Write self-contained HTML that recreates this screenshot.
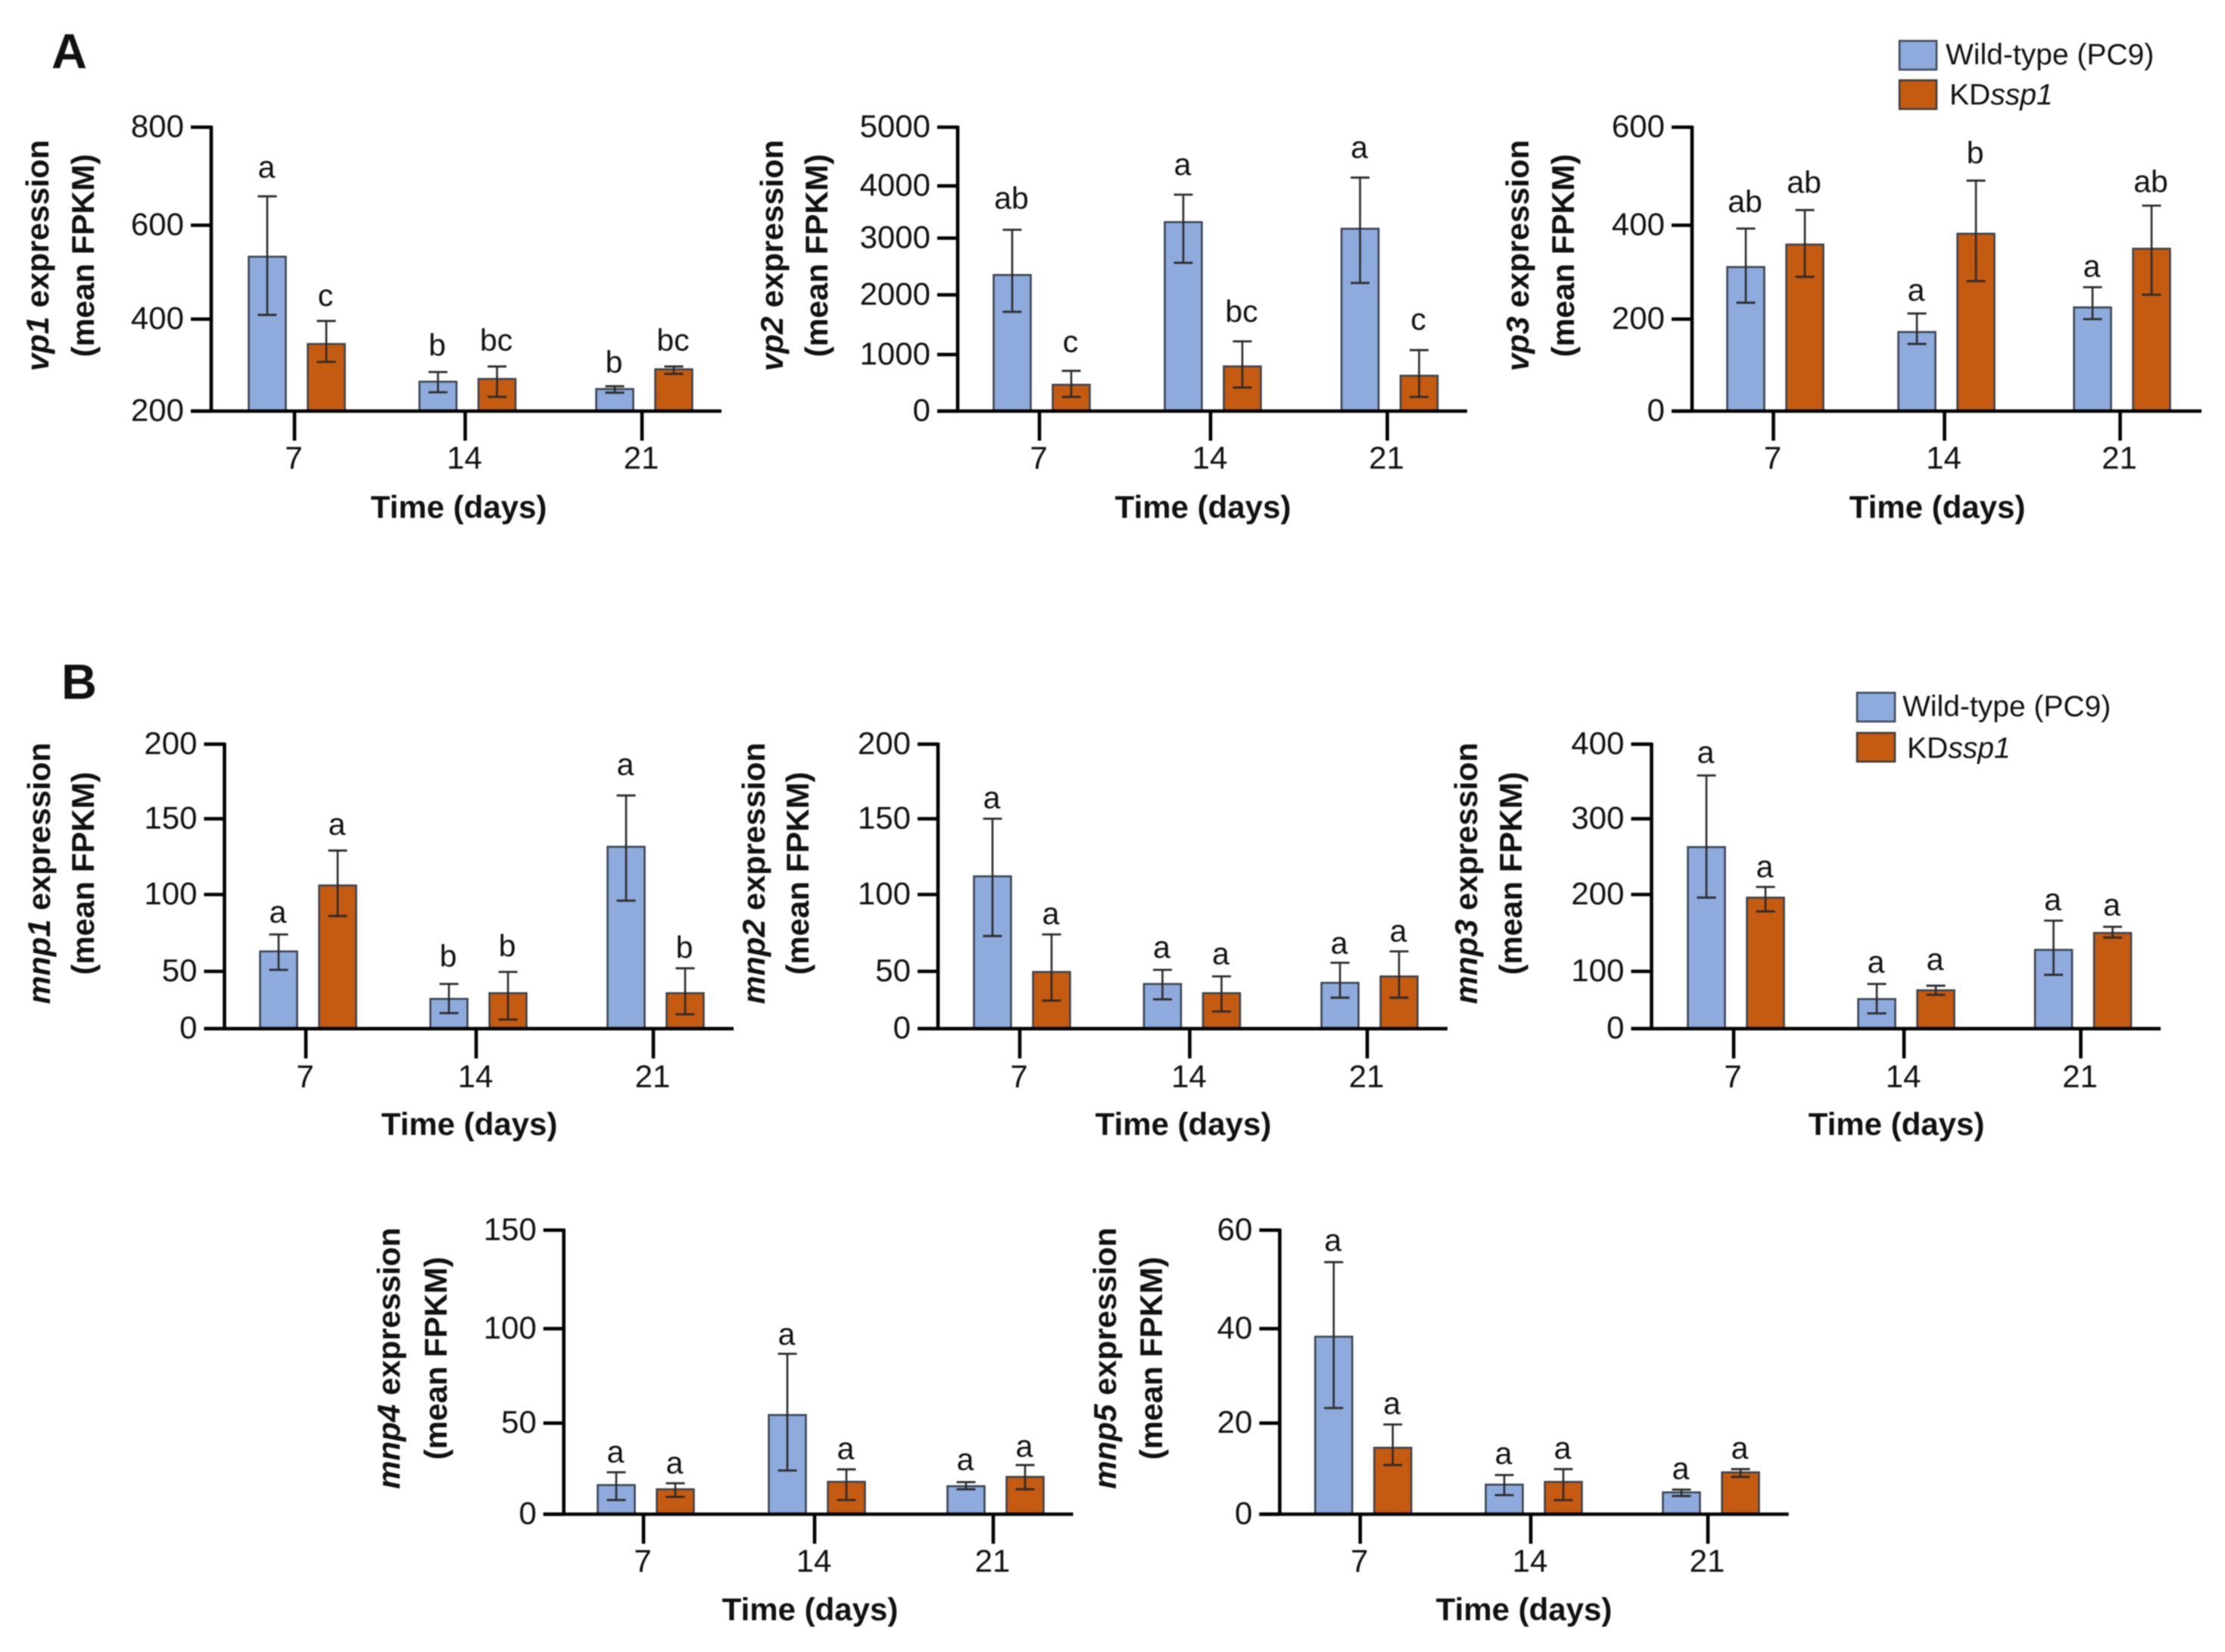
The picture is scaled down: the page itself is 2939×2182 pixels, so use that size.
<!DOCTYPE html>
<html lang="en">
<head>
<meta charset="utf-8">
<title>Gene expression of vp and mnp genes in wild-type and KDssp1</title>
<style>
html,body{margin:0;padding:0;background:#fff}
svg{display:block;filter:blur(0.7px)}
text{font-family:"Liberation Sans",sans-serif;fill:#111}
</style>
</head>
<body>
<svg id="figure" xmlns="http://www.w3.org/2000/svg" width="2939" height="2182" viewBox="0 0 2939 2182">
  <rect x="0" y="0" width="2939" height="2182" fill="#fff"/>
  <text x="68" y="90" font-size="65" font-weight="bold">A</text>
  <text x="81" y="923" font-size="65" font-weight="bold">B</text>

  <g>
    <rect x="2509" y="54" width="49" height="38" fill="#8FAADC" stroke="#3a4654" stroke-width="2.5"/>
    <text x="2570" y="85" font-size="39">Wild-type (PC9)</text>
    <rect x="2509" y="106" width="49" height="38" fill="#C55A11" stroke="#3a3a3a" stroke-width="2.5"/>
    <text x="2575" y="138" font-size="39">KD<tspan font-style="italic">ssp1</tspan></text>
  </g>
  <g>
    <rect x="2453" y="915" width="50" height="38" fill="#8FAADC" stroke="#3a4654" stroke-width="2.5"/>
    <text x="2513" y="946" font-size="39">Wild-type (PC9)</text>
    <rect x="2453" y="968" width="50" height="38" fill="#C55A11" stroke="#3a3a3a" stroke-width="2.5"/>
    <text x="2519" y="1001" font-size="39">KD<tspan font-style="italic">ssp1</tspan></text>
  </g>
</svg>
<script>
// Shared categories
const days = [7, 14, 21];

// vp1
const vp1Ticks = [200, 400, 600, 800];
const vp1Wt = [533, 264, 248];
const vp1Kd = [346, 270, 291];
const vp1WtHi = [659, 285, 254];
const vp1KdHi = [396, 297, 297];
const vp1WtLo = [409, 241, 240];
const vp1KdLo = [307, 231, 281];
const vp1WtSig = ['a', 'b', 'b'];
const vp1KdSig = ['c', 'bc', 'bc'];

// vp2
const vp2Ticks = [0, 1000, 2000, 3000, 4000, 5000];
const vp2Wt = [2350, 3307, 3180];
const vp2Kd = [466, 791, 626];
const vp2WtHi = [3160, 3833, 4142];
const vp2KdHi = [712, 1221, 1074];
const vp2WtLo = [1715, 2564, 2209];
const vp2KdLo = [251, 417, 251];
const vp2WtSig = ['ab', 'a', 'a'];
const vp2KdSig = ['c', 'bc', 'c'];

// vp3
const vp3Ticks = [0, 200, 400, 600];
const vp3Wt = [311, 172, 225];
const vp3Kd = [359, 382, 350];
const vp3WtHi = [393, 212, 268];
const vp3KdHi = [431, 491, 440];
const vp3WtLo = [235, 146, 200];
const vp3KdLo = [290, 281, 252];
const vp3WtSig = ['ab', 'a', 'a'];
const vp3KdSig = ['ab', 'b', 'ab'];

// mnp1
const mnp1Ticks = [0, 50, 100, 150, 200];
const mnp1Wt = [63, 26, 131.5];
const mnp1Kd = [106, 31, 31];
const mnp1WtHi = [74, 39, 165.6];
const mnp1KdHi = [129, 49.5, 52];
const mnp1WtLo = [51, 13.6, 96];
const mnp1KdLo = [86, 8, 12.5];
const mnp1WtSig = ['a', 'b', 'a'];
const mnp1KdSig = ['a', 'b', 'b'];

// mnp2
const mnp2Ticks = [0, 50, 100, 150, 200];
const mnp2Wt = [112, 39, 40];
const mnp2Kd = [49.5, 31, 45.6];
const mnp2WtHi = [150, 51, 55.6];
const mnp2KdHi = [74, 45.6, 63];
const mnp2WtLo = [73, 25.6, 27];
const mnp2KdLo = [24.5, 15, 27];
const mnp2WtSig = ['a', 'a', 'a'];
const mnp2KdSig = ['a', 'a', 'a'];

// mnp3
const mnp3Ticks = [0, 100, 200, 300, 400];
const mnp3Wt = [262.6, 51.7, 128];
const mnp3Kd = [196, 67, 150];
const mnp3WtHi = [358, 78, 166];
const mnp3KdHi = [210, 75, 158];
const mnp3WtLo = [196, 26.7, 94];
const mnp3KdLo = [178, 59, 144];
const mnp3WtSig = ['a', 'a', 'a'];
const mnp3KdSig = ['a', 'a', 'a'];

// mnp4
const mnp4Ticks = [0, 50, 100, 150];
const mnp4Wt = [16, 54.3, 15.4];
const mnp4Kd = [13.7, 17.8, 20.5];
const mnp4WtHi = [23, 86.7, 17.6];
const mnp4KdHi = [17, 24.6, 27];
const mnp4WtLo = [7.8, 24, 13.7];
const mnp4KdLo = [9.5, 7.8, 13.7];
const mnp4WtSig = ['a', 'a', 'a'];
const mnp4KdSig = ['a', 'a', 'a'];

// mnp5
const mnp5Ticks = [0, 20, 40, 60];
const mnp5Wt = [38.3, 6.5, 4.8];
const mnp5Kd = [14.6, 7.1, 9.2];
const mnp5WtHi = [53.5, 8.6, 5.4];
const mnp5KdHi = [19.7, 9.9, 9.9];
const mnp5WtLo = [23.2, 4.2, 4];
const mnp5KdLo = [10.8, 3.1, 8.2];
const mnp5WtSig = ['a', 'a', 'a'];
const mnp5KdSig = ['a', 'a', 'a'];

// Layout rows: axis calibration (separate from data)
const rowA = {bottom: 543, tickEnd: 582, labelBase: 619, titleBase: 684, titleMid: 337.5};
const rowB = {bottom: 1358.7, tickEnd: 1398, labelBase: 1436, titleBase: 1499, titleMid: 1153.5};
const rowC = {bottom: 2000, tickEnd: 2039, labelBase: 2076, titleBase: 2140, titleMid: 1794};

const charts = [
  {id:'vp1', gene:'vp1', row:rowA, axisX:279, rightX:953, line1:64, line2:124, titleX:606,
   yStops:[543,421.5,297.5,168], xStops:[392,617.5,851], tickShift:-3,
   ticks:vp1Ticks, wt:vp1Wt, kd:vp1Kd, wtHi:vp1WtHi, kdHi:vp1KdHi, wtLo:vp1WtLo, kdLo:vp1KdLo, wtSig:vp1WtSig, kdSig:vp1KdSig,
   wtGap:[25,22,18], kdGap:[20,21,21]},
  {id:'vp2', gene:'vp2', row:rowA, axisX:1265, rightX:1938, line1:1034, line2:1093, titleX:1589,
   yStops:[543,468.3,389.4,314.5,245.6,168], xStops:[1376,1602,1835.5], tickShift:-3,
   ticks:vp2Ticks, wt:vp2Wt, kd:vp2Kd, wtHi:vp2WtHi, kdHi:vp2KdHi, wtLo:vp2WtLo, kdLo:vp2KdLo, wtSig:vp2WtSig, kdSig:vp2KdSig,
   wtGap:[28,26,26], kdGap:[25,26,27]},
  {id:'vp3', gene:'vp3', row:rowA, axisX:2235, rightX:2908, line1:2019, line2:2079, titleX:2559,
   yStops:[543,421.5,297.5,168], xStops:[2345,2571,2803], tickShift:-2.5,
   ticks:vp3Ticks, wt:vp3Wt, kd:vp3Kd, wtHi:vp3WtHi, kdHi:vp3KdHi, wtLo:vp3WtLo, kdLo:vp3KdLo, wtSig:vp3WtSig, kdSig:vp3KdSig,
   wtGap:[22,17,14], kdGap:[23,23,18]},
  {id:'mnp1', gene:'mnp1', row:rowB, axisX:296.5, rightX:969, line1:66, line2:124, titleX:620,
   yStops:[1358.7,1283,1181.5,1081.4,982.9], xStops:[407,632,866], tickShift:-3,
   ticks:mnp1Ticks, wt:mnp1Wt, kd:mnp1Kd, wtHi:mnp1WtHi, kdHi:mnp1KdHi, wtLo:mnp1WtLo, kdLo:mnp1KdLo, wtSig:mnp1WtSig, kdSig:mnp1KdSig,
   wtGap:[16,23,27], kdGap:[21,21,14]},
  {id:'mnp2', gene:'mnp2', row:rowB, axisX:1239, rightX:1912, line1:1010, line2:1068, titleX:1563,
   yStops:[1358.7,1283,1181.5,1081.4,982.9], xStops:[1350,1574.5,1809], tickShift:-3,
   ticks:mnp2Ticks, wt:mnp2Wt, kd:mnp2Kd, wtHi:mnp2WtHi, kdHi:mnp2KdHi, wtLo:mnp2WtLo, kdLo:mnp2KdLo, wtSig:mnp2WtSig, kdSig:mnp2KdSig,
   wtGap:[14,16,12], kdGap:[14,16,13]},
  {id:'mnp3', gene:'mnp3', row:rowB, axisX:2181.5, rightX:2854, line1:1951, line2:2010, titleX:2505,
   yStops:[1358.7,1283,1181.5,1081.4,982.9], xStops:[2293,2518,2751.5], tickShift:-3,
   ticks:mnp3Ticks, wt:mnp3Wt, kd:mnp3Kd, wtHi:mnp3WtHi, kdHi:mnp3KdHi, wtLo:mnp3WtLo, kdLo:mnp3KdLo, wtSig:mnp3WtSig, kdSig:mnp3KdSig,
   wtGap:[17,15,14], kdGap:[13,21,15]},
  {id:'mnp4', gene:'mnp4', row:rowC, axisX:744.7, rightX:1417.5, line1:528, line2:590, titleX:1070,
   yStops:[2000,1879.7,1754.9,1624.8], xStops:[853,1079,1315], tickShift:-3,
   ticks:mnp4Ticks, wt:mnp4Wt, kd:mnp4Kd, wtHi:mnp4WtHi, kdHi:mnp4KdHi, wtLo:mnp4WtLo, kdLo:mnp4KdLo, wtSig:mnp4WtSig, kdSig:mnp4KdSig,
   wtGap:[13,12,16], kdGap:[13,14,11]},
  {id:'mnp5', gene:'mnp5', row:rowC, axisX:1690.4, rightX:2362.6, line1:1474, line2:1535, titleX:2013,
   yStops:[2000,1879.7,1754.9,1624.8], xStops:[1800.7,2026,2260], tickShift:-4,
   ticks:mnp5Ticks, wt:mnp5Wt, kd:mnp5Kd, wtHi:mnp5WtHi, kdHi:mnp5KdHi, wtLo:mnp5WtLo, kdLo:mnp5KdLo, wtSig:mnp5WtSig, kdSig:mnp5KdSig,
   wtGap:[15,15,14], kdGap:[14,14,14]}
];

const SVG_NS = 'http://www.w3.org/2000/svg';
const BLUE = '#8FAADC';
const ORANGE = '#C55A11';
const BAR_WIDTH = 49;
const BAR_OFFSET = 39;
const CAP_WIDTH = 25;

function make(tag, attrs, parent, name) {
  const node = document.createElementNS(SVG_NS, tag);
  for (const key in attrs) node.setAttribute(key, attrs[key]);
  
  
  parent.appendChild(node);
  return node;
}

// Piecewise-linear value axis calibrated on the chart's tick marks
function yScale(chart, value) {
  const t = chart.ticks;
  const s = chart.yStops;
  let i = 0;
  while (i < t.length - 2 && value > t[i + 1]) i++;
  return s[i] + (value - t[i]) / (t[i + 1] - t[i]) * (s[i + 1] - s[i]);
}
function xScale(chart, index) {
  return chart.xStops[index];
}

function drawSeries(g, chart, i, key, offset, color) {
  const cx = xScale(chart, i) + offset;
  const bottom = chart.row.bottom;
  const top = yScale(chart, chart[key][i]);
  const hi = yScale(chart, chart[key + 'Hi'][i]);
  const lo = yScale(chart, chart[key + 'Lo'][i]);
  const label = key + '-day-' + days[i];
  make('rect', {x: cx - BAR_WIDTH / 2, y: top, width: BAR_WIDTH, height: bottom - top, fill: color, stroke: '#37414d', 'stroke-width': 2.5}, g, 'bar-' + label);
  make('line', {x1: cx, x2: cx, y1: hi, y2: lo, stroke: '#2b2b2b', 'stroke-width': 2.6}, g, 'error-bar-' + label);
  make('line', {x1: cx - CAP_WIDTH / 2, x2: cx + CAP_WIDTH / 2, y1: hi, y2: hi, stroke: '#2b2b2b', 'stroke-width': 2.8}, g, 'error-cap-high-' + label);
  make('line', {x1: cx - CAP_WIDTH / 2, x2: cx + CAP_WIDTH / 2, y1: lo, y2: lo, stroke: '#2b2b2b', 'stroke-width': 2.8}, g, 'error-cap-low-' + label);
  const sig = make('text', {x: cx - 1, y: hi - chart[key + 'Gap'][i], 'font-size': 41, 'text-anchor': 'middle'}, g, 'significance-letter-' + label);
  sig.textContent = chart[key + 'Sig'][i];
}

function drawChart(chart) {
  const svg = document.getElementById('figure');
  const g = make('g', {}, svg, 'chart-' + chart.id);
  const row = chart.row;
  const topY = yScale(chart, chart.ticks[chart.ticks.length - 1]);

  // Bars first so the axis overlays their base
  chart.wt.forEach(function (v, i) {
    drawSeries(g, chart, i, 'wt', -BAR_OFFSET, BLUE);
    drawSeries(g, chart, i, 'kd', BAR_OFFSET, ORANGE);
  });

  make('line', {x1: chart.axisX, x2: chart.axisX, y1: topY - 2, y2: row.bottom + 2, stroke: '#000', 'stroke-width': 4.6}, g, 'y-axis-line');
  make('line', {x1: chart.axisX - 27, x2: chart.rightX, y1: row.bottom, y2: row.bottom, stroke: '#000', 'stroke-width': 4.6}, g, 'x-axis-line');

  chart.ticks.forEach(function (tick) {
    const y = yScale(chart, tick);
    make('line', {x1: chart.axisX - 27, x2: chart.axisX, y1: y, y2: y, stroke: '#000', 'stroke-width': 4.6}, g, 'y-tick-' + tick);
    const label = make('text', {x: chart.axisX - 36, y: y + 13, 'font-size': 42, 'text-anchor': 'end'}, g, 'y-tick-label-' + tick);
    label.textContent = tick;
  });

  days.forEach(function (day, i) {
    const x = xScale(chart, i) + chart.tickShift;
    make('line', {x1: x, x2: x, y1: row.bottom, y2: row.tickEnd, stroke: '#000', 'stroke-width': 4.6}, g, 'x-tick-' + day);
    const label = make('text', {x: x - 1, y: row.labelBase, 'font-size': 42, 'text-anchor': 'middle'}, g, 'x-tick-label-' + day);
    label.textContent = day;
  });

  const xTitle = make('text', {x: chart.titleX, y: row.titleBase, 'font-size': 42, 'font-weight': 'bold', 'text-anchor': 'middle'}, g, 'x-axis-title');
  xTitle.textContent = 'Time (days)';

  const yTitle = make('text', {transform: 'translate(' + chart.line1 + ',' + row.titleMid + ') rotate(-90)', 'font-size': 42, 'font-weight': 'bold', 'text-anchor': 'middle'}, g, 'y-axis-title-gene');
  const gene = make('tspan', {'font-style': 'italic'}, yTitle, 'y-axis-title-gene-name');
  gene.textContent = chart.gene;
  const expr = make('tspan', {}, yTitle, 'y-axis-title-expression');
  expr.textContent = ' expression';

  const yUnit = make('text', {transform: 'translate(' + chart.line2 + ',' + row.titleMid + ') rotate(-90)', 'font-size': 42, 'font-weight': 'bold', 'text-anchor': 'middle'}, g, 'y-axis-title-unit');
  yUnit.textContent = '(mean FPKM)';
}

charts.forEach(drawChart);
</script>
</body>
</html>
